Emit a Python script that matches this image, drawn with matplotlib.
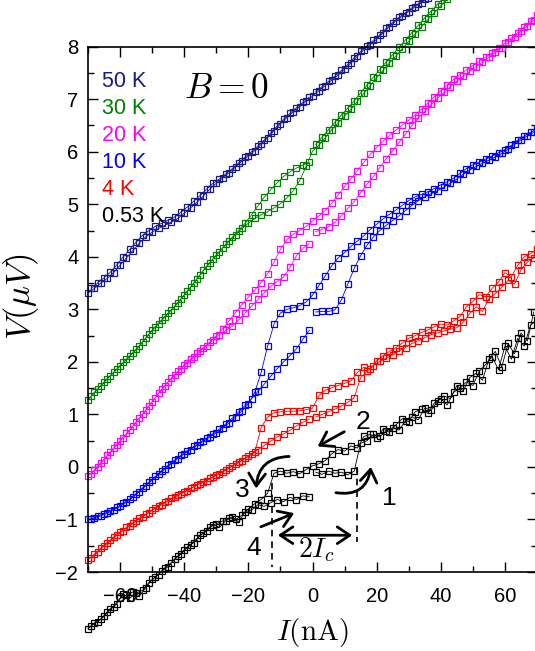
import numpy as np
import matplotlib
matplotlib.use('Agg')
import matplotlib.pyplot as plt
from matplotlib.ticker import MultipleLocator

plt.rcParams['font.family'] = ['Liberation Sans', 'DejaVu Sans']
plt.rcParams['mathtext.fontset'] = 'cm'

# current grid (nA): down sweep read on even currents, up sweeps on odd ones
I_down = np.arange(-70, 71, 2)
I_up = np.arange(-69, 70, 2)

temps = ['50 K', '30 K', '20 K', '10 K', '4 K', '0.53 K']
colors = ['#1a1a8a', '#008000', '#ff00ff', '#0000ff', '#ff0000', '#000000']

# V (uV), shifted curves as in the figure
V50_down = [3.31, 3.40, 3.50, 3.59, 3.70, 3.84, 3.98, 4.12, 4.26, 4.38,
            4.47, 4.54, 4.60, 4.66, 4.73, 4.83, 4.93, 5.04, 5.16, 5.29,
            5.40, 5.50, 5.60, 5.71, 5.82, 5.92, 6.02, 6.14, 6.27, 6.40,
            6.53, 6.65, 6.76, 6.86, 6.96, 7.06, 7.16, 7.26, 7.36, 7.46,
            7.57, 7.69, 7.82, 7.94, 8.04, 8.14, 8.26, 8.38, 8.49, 8.58,
            8.67, 8.76, 8.84, 8.92, 9.00, 9.08, 9.16, 9.24, 9.32, 9.40,
            9.48, 9.56, 9.64, 9.72, 9.80, 9.88, 9.96, 10.04, 10.12, 10.20,
            10.28]
V50_up = [3.40, 3.50, 3.60, 3.71, 3.85, 4.00, 4.14, 4.28, 4.41, 4.50,
          4.58, 4.64, 4.70, 4.76, 4.85, 4.95, 5.06, 5.17, 5.29, 5.40,
          5.48, 5.58, 5.68, 5.79, 5.90, 6.00, 6.11, 6.23, 6.36, 6.49,
          6.62, 6.73, 6.84, 6.94, 7.04, 7.14, 7.24, 7.34, 7.44, 7.55,
          7.66, 7.79, 7.91, 8.02, 8.12, 8.23, 8.35, 8.46, 8.56, 8.65,
          8.74, 8.82, 8.90, 8.98, 9.06, 9.14, 9.22, 9.30, 9.38, 9.46,
          9.54, 9.62, 9.70, 9.78, 9.86, 9.94, 10.02, 10.10, 10.18, 10.26]

V30_down = [1.28, 1.42, 1.55, 1.68, 1.80, 1.92, 2.05, 2.17, 2.30, 2.45,
            2.60, 2.73, 2.86, 2.99, 3.12, 3.27, 3.42, 3.58, 3.74, 3.89,
            4.03, 4.17, 4.30, 4.42, 4.54, 4.64, 4.73, 4.80, 4.86, 4.93,
            5.01, 5.12, 5.26, 5.45, 5.72, 6.01, 6.13, 6.27, 6.42, 6.55,
            6.68, 6.81, 6.96, 7.11, 7.26, 7.41, 7.55, 7.69, 7.82, 7.96,
            8.10, 8.24, 8.38, 8.52, 8.65, 8.78, 8.90, 9.03, 9.16, 9.29,
            9.42, 9.55, 9.68, 9.81, 9.94, 10.07, 10.20, 10.33, 10.46, 10.59,
            10.72]
V30_up = [1.35, 1.48, 1.61, 1.74, 1.86, 1.99, 2.11, 2.24, 2.38, 2.53,
          2.67, 2.80, 2.93, 3.06, 3.20, 3.35, 3.50, 3.66, 3.82, 3.96,
          4.10, 4.24, 4.37, 4.50, 4.64, 4.80, 4.97, 5.14, 5.28, 5.41,
          5.53, 5.62, 5.69, 5.75, 5.80, 6.14, 6.28, 6.42, 6.56, 6.70,
          6.83, 6.97, 7.12, 7.27, 7.42, 7.57, 7.71, 7.85, 7.99, 8.13,
          8.27, 8.41, 8.55, 8.68, 8.81, 8.94, 9.07, 9.20, 9.33, 9.46,
          9.59, 9.72, 9.85, 9.98, 10.11, 10.24, 10.37, 10.50, 10.63, 10.76]

V20_down = [-0.18, -0.06, 0.08, 0.22, 0.36, 0.50, 0.64, 0.78, 0.93, 1.08,
            1.24, 1.40, 1.55, 1.69, 1.82, 1.94, 2.05, 2.16, 2.27, 2.38,
            2.50, 2.63, 2.78, 2.94, 3.09, 3.23, 3.37, 3.51, 3.68, 3.90,
            4.14, 4.33, 4.43, 4.50, 4.58, 4.68, 4.78, 4.88, 5.02, 5.18,
            5.34, 5.49, 5.64, 5.80, 5.95, 6.08, 6.20, 6.31, 6.41, 6.51,
            6.60, 6.70, 6.81, 6.93, 7.05, 7.16, 7.27, 7.38, 7.47, 7.56,
            7.64, 7.72, 7.80, 7.88, 7.97, 8.07, 8.17, 8.27, 8.38, 8.49,
            8.60]
V20_up = [-0.14, 0.00, 0.14, 0.28, 0.42, 0.56, 0.70, 0.85, 1.00, 1.16,
          1.32, 1.48, 1.62, 1.75, 1.87, 1.98, 2.09, 2.20, 2.31, 2.42,
          2.52, 2.60, 2.68, 2.80, 2.93, 3.06, 3.19, 3.32, 3.44, 3.53,
          3.62, 3.80, 4.02, 4.16, 4.25, 4.48, 4.52, 4.57, 4.66, 4.78,
          4.92, 5.05, 5.22, 5.38, 5.53, 5.70, 5.87, 6.02, 6.18, 6.34,
          6.50, 6.64, 6.77, 6.90, 7.02, 7.13, 7.24, 7.34, 7.44, 7.53,
          7.62, 7.71, 7.80, 7.89, 7.98, 8.08, 8.19, 8.29, 8.40, 8.51]

V10_down = [-1.00, -0.97, -0.93, -0.88, -0.82, -0.75, -0.67, -0.58, -0.47, -0.36,
            -0.25, -0.14, -0.04, 0.06, 0.16, 0.25, 0.33, 0.41, 0.49, 0.57,
            0.65, 0.74, 0.84, 0.95, 1.07, 1.20, 1.42, 1.80, 2.30, 2.72,
            2.93, 3.00, 3.03, 3.07, 3.14, 3.27, 3.45, 3.64, 3.83, 3.98,
            4.08, 4.20, 4.30, 4.40, 4.52, 4.62, 4.72, 4.81, 4.89, 4.98,
            5.07, 5.14, 5.19, 5.24, 5.30, 5.37, 5.43, 5.50, 5.59, 5.68,
            5.75, 5.80, 5.86, 5.92, 5.98, 6.04, 6.12, 6.22, 6.30, 6.37,
            6.43]
V10_up = [-0.99, -0.94, -0.89, -0.83, -0.77, -0.69, -0.61, -0.51, -0.40, -0.29,
          -0.18, -0.07, 0.03, 0.13, 0.22, 0.31, 0.39, 0.47, 0.55, 0.63,
          0.72, 0.82, 0.93, 1.05, 1.17, 1.30, 1.44, 1.58, 1.73, 1.87,
          2.00, 2.12, 2.25, 2.43, 2.60, 2.95, 2.96, 2.96, 2.99, 3.18,
          3.48, 3.78, 4.02, 4.22, 4.38, 4.50, 4.60, 4.69, 4.78, 4.88,
          4.98, 5.07, 5.14, 5.20, 5.26, 5.33, 5.40, 5.48, 5.57, 5.65,
          5.72, 5.78, 5.84, 5.90, 5.97, 6.05, 6.14, 6.23, 6.30, 6.37]

V4_down = [-1.77, -1.66, -1.55, -1.44, -1.34, -1.24, -1.15, -1.06, -0.98, -0.90,
           -0.82, -0.74, -0.67, -0.60, -0.53, -0.47, -0.41, -0.34, -0.28, -0.22,
           -0.15, -0.09, -0.02, 0.05, 0.12, 0.20, 0.28, 0.75, 0.95, 1.03,
           1.05, 1.06, 1.06, 1.07, 1.09, 1.12, 1.36, 1.46, 1.51, 1.55,
           1.59, 1.64, 1.80, 1.90, 1.86, 2.02, 2.12, 2.20, 2.27, 2.36,
           2.45, 2.50, 2.56, 2.61, 2.67, 2.72, 2.70, 2.78, 2.86, 3.05,
           3.15, 3.28, 3.24, 3.40, 3.52, 3.70, 3.62, 3.84, 4.00, 4.06,
           4.15]
V4_up = [-1.73, -1.62, -1.51, -1.40, -1.30, -1.21, -1.12, -1.03, -0.95, -0.87,
         -0.79, -0.72, -0.65, -0.58, -0.51, -0.45, -0.38, -0.32, -0.26, -0.19,
         -0.13, -0.06, 0.02, 0.09, 0.17, 0.25, 0.33, 0.41, 0.49, 0.57,
         0.63, 0.70, 0.78, 0.85, 0.91, 0.95, 1.00, 1.05, 1.10, 1.16,
         1.23, 1.32, 1.70, 1.82, 1.93, 2.01, 2.07, 2.13, 2.21, 2.27,
         2.35, 2.40, 2.46, 2.52, 2.55, 2.59, 2.62, 2.65, 2.75, 2.92,
         3.05, 2.96, 3.20, 3.30, 3.42, 3.55, 3.48, 3.75, 3.90, 3.98]

V053_down = [-3.08, -2.97, -2.90, -2.76, -2.66, -2.50, -2.44, -2.38, -2.46, -2.30,
             -2.14, -2.05, -1.92, -1.82, -1.70, -1.58, -1.48, -1.36, -1.25, -1.14,
             -1.08, -1.03, -0.97, -1.00, -0.92, -0.80, -0.70, -0.62, -0.50, -0.12,
             -0.08, -0.12, -0.09, -0.13, -0.05, 0.02, 0.06, 0.12, 0.25, 0.33,
             0.30, 0.40, 0.36, 0.58, 0.62, 0.55, 0.72, 0.66, 0.80, 0.92,
             0.86, 1.05, 1.10, 1.02, 1.22, 1.30, 1.18, 1.42, 1.50, 1.62,
             1.55, 1.82, 1.95, 2.10, 1.85, 2.30, 2.05, 2.45, 2.30, 2.70,
             2.80]
V053_up = [-3.02, -2.95, -2.84, -2.70, -2.60, -2.42, -2.50, -2.40, -2.35, -2.20,
           -2.10, -1.98, -1.90, -1.75, -1.66, -1.52, -1.44, -1.30, -1.22, -1.10,
           -1.15, -1.02, -0.95, -1.05, -0.85, -0.82, -0.72, -0.75, -0.68, -0.62,
           -0.66, -0.58, -0.62, -0.55, -0.57, -0.10, -0.14, -0.08, -0.12, -0.10,
           -0.15, -0.08, 0.45, 0.50, 0.62, 0.58, 0.68, 0.75, 0.70, 0.88,
           0.95, 0.90, 1.12, 1.08, 1.25, 1.35, 1.30, 1.55, 1.45, 1.70,
           1.78, 1.65, 2.05, 2.20, 1.90, 2.35, 2.15, 2.55, 2.40, 2.95]

curves = [(V50_down, V50_up), (V30_down, V30_up), (V20_down, V20_up),
          (V10_down, V10_up), (V4_down, V4_up), (V053_down, V053_up)]

# switching / retrapping currents marked on the 0.53 K curve
Ic_left = -12.6
Ic_right = 14.0

fig = plt.figure(figsize=(5.35, 6.51), dpi=100)
ax = fig.add_axes([88 / 535, 1 - 572 / 651, 449 / 535, 525.3 / 651])

for (v_down, v_up), c in zip(curves, colors):
    kw = dict(color=c, marker='s', ms=4.7, mfc='none', mew=0.9, lw=0.6, clip_on=False)
    v_up = np.array(v_up)
    neg = I_up < 0
    ax.plot(I_down, v_down, **kw)
    ax.plot(I_up[neg], v_up[neg], **kw)
    ax.plot(I_up[~neg], v_up[~neg], **kw)

# temperature labels
for k, (t, c) in enumerate(zip(temps, colors)):
    ax.text(-65.7, 7.33 - 0.514 * k, t, color=c, fontsize=15.5, ha='left', va='center')
ax.text(-40.2, 7.21, r'$B=0$', fontsize=25.5, ha='left', va='center')

# hysteresis annotations
akw = dict(arrowstyle='->,head_length=0.45,head_width=0.3', lw=2, color='black',
           shrinkA=0, shrinkB=0, mutation_scale=20)
ax.annotate('', xy=(18.2, 0.0), xytext=(7.3, -0.49),
            arrowprops=dict(connectionstyle='arc3,rad=0.5', **akw))
ax.annotate('', xy=(1.6, 0.39), xytext=(9.9, 0.67), arrowprops=akw)
ax.annotate('', xy=(-17.6, -0.41), xytext=(-7.3, 0.2),
            arrowprops=dict(connectionstyle='arc3,rad=0.45', **akw))
ax.annotate('', xy=(-5.7, -0.88), xytext=(-16.1, -1.14), arrowprops=akw)
ax.annotate('', xy=(12.4, -1.30), xytext=(-10.8, -1.30),
            arrowprops=dict(arrowstyle='<->,head_length=0.45,head_width=0.3', lw=2,
                            color='black', shrinkA=0, shrinkB=0, mutation_scale=20))
ax.plot([Ic_left, Ic_left], [-0.30, -1.90], color='black', lw=1.2, dashes=(4, 3))
ax.plot([Ic_right, Ic_right], [0.0, -1.43], color='black', lw=1.2, dashes=(4, 3))
for s, (x, y) in zip(['1', '2', '3', '4'], [(24.0, -0.6), (15.6, 0.86), (-21.8, -0.44), (-18.2, -1.55)]):
    ax.text(x, y, s, fontsize=19, ha='center', va='center')
ax.text(1.1, -1.58, r'$2I_c$', fontsize=20, ha='center', va='center')

ax.set_xlim(-70, 70)
ax.set_ylim(-2, 8)
ax.set_xticks([-60, -40, -20, 0, 20, 40, 60])
ax.xaxis.set_minor_locator(MultipleLocator(10))
ax.set_yticks(range(-2, 9))
ax.yaxis.set_minor_locator(MultipleLocator(0.5))
ax.tick_params(which='both', direction='in', top=True, right=True, width=1.0)
ax.tick_params(which='major', length=7)
ax.tick_params(which='minor', length=4)
ax.tick_params(axis='x', labelsize=14.5, pad=11)
ax.tick_params(axis='y', labelsize=14.5, pad=7)
for s in ax.spines.values():
    s.set_linewidth(1.2)

ax.set_xlabel(r'$I(\mathrm{nA})$', fontsize=21)
ax.xaxis.set_label_coords(0.5, -0.083)
ax.set_ylabel(r'$V(\mu V)$', fontsize=25)
ax.yaxis.set_label_coords(-0.105, 0.525)

fig.savefig('out.png', dpi=100)
